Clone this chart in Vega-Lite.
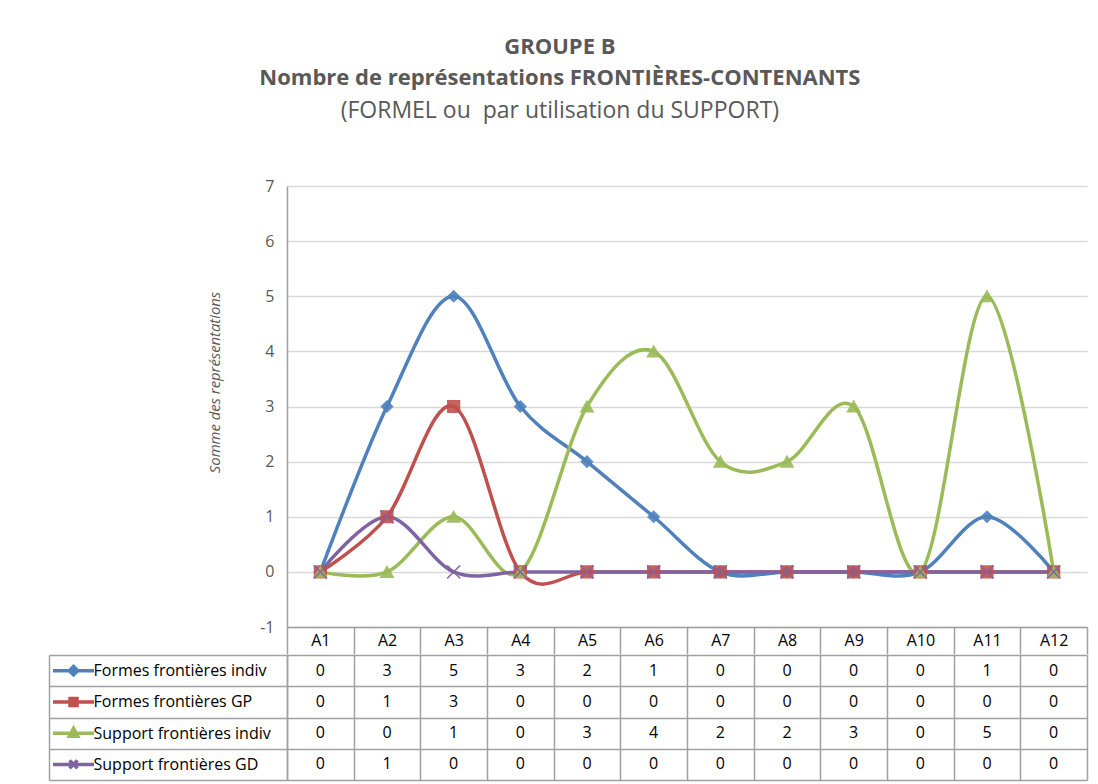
{
  "$schema": "https://vega.github.io/schema/vega-lite/v6.json",
  "padding": {"left": 46, "top": 36, "right": 12, "bottom": 4},
  "background": "white",
  "config": {"view": {"stroke": null}, "font": "Open Sans"},
  "title": {
    "text": ["GROUPE B", "Nombre de représentations FRONTIÈRES-CONTENANTS"],
    "subtitle": "(FORMEL ou\u00a0 par utilisation du SUPPORT)",
    "font": "Open Sans", "fontSize": 22, "fontWeight": "bold", "color": "#595959", "lineHeight": 31,
    "subtitleFont": "Open Sans", "subtitleFontSize": 23, "subtitleColor": "#595959", "subtitlePadding": 10,
    "anchor": "middle", "offset": 54, "dx": -7
  },
  "data": {"values": [
    {"series": "Formes frontières indiv", "cat": "A1", "value": 0},
    {"series": "Formes frontières indiv", "cat": "A2", "value": 3},
    {"series": "Formes frontières indiv", "cat": "A3", "value": 5},
    {"series": "Formes frontières indiv", "cat": "A4", "value": 3},
    {"series": "Formes frontières indiv", "cat": "A5", "value": 2},
    {"series": "Formes frontières indiv", "cat": "A6", "value": 1},
    {"series": "Formes frontières indiv", "cat": "A7", "value": 0},
    {"series": "Formes frontières indiv", "cat": "A8", "value": 0},
    {"series": "Formes frontières indiv", "cat": "A9", "value": 0},
    {"series": "Formes frontières indiv", "cat": "A10", "value": 0},
    {"series": "Formes frontières indiv", "cat": "A11", "value": 1},
    {"series": "Formes frontières indiv", "cat": "A12", "value": 0},
    {"series": "Formes frontières GP", "cat": "A1", "value": 0},
    {"series": "Formes frontières GP", "cat": "A2", "value": 1},
    {"series": "Formes frontières GP", "cat": "A3", "value": 3},
    {"series": "Formes frontières GP", "cat": "A4", "value": 0},
    {"series": "Formes frontières GP", "cat": "A5", "value": 0},
    {"series": "Formes frontières GP", "cat": "A6", "value": 0},
    {"series": "Formes frontières GP", "cat": "A7", "value": 0},
    {"series": "Formes frontières GP", "cat": "A8", "value": 0},
    {"series": "Formes frontières GP", "cat": "A9", "value": 0},
    {"series": "Formes frontières GP", "cat": "A10", "value": 0},
    {"series": "Formes frontières GP", "cat": "A11", "value": 0},
    {"series": "Formes frontières GP", "cat": "A12", "value": 0},
    {"series": "Support frontières indiv", "cat": "A1", "value": 0},
    {"series": "Support frontières indiv", "cat": "A2", "value": 0},
    {"series": "Support frontières indiv", "cat": "A3", "value": 1},
    {"series": "Support frontières indiv", "cat": "A4", "value": 0},
    {"series": "Support frontières indiv", "cat": "A5", "value": 3},
    {"series": "Support frontières indiv", "cat": "A6", "value": 4},
    {"series": "Support frontières indiv", "cat": "A7", "value": 2},
    {"series": "Support frontières indiv", "cat": "A8", "value": 2},
    {"series": "Support frontières indiv", "cat": "A9", "value": 3},
    {"series": "Support frontières indiv", "cat": "A10", "value": 0},
    {"series": "Support frontières indiv", "cat": "A11", "value": 5},
    {"series": "Support frontières indiv", "cat": "A12", "value": 0},
    {"series": "Support frontières GD", "cat": "A1", "value": 0},
    {"series": "Support frontières GD", "cat": "A2", "value": 1},
    {"series": "Support frontières GD", "cat": "A3", "value": 0},
    {"series": "Support frontières GD", "cat": "A4", "value": 0},
    {"series": "Support frontières GD", "cat": "A5", "value": 0},
    {"series": "Support frontières GD", "cat": "A6", "value": 0},
    {"series": "Support frontières GD", "cat": "A7", "value": 0},
    {"series": "Support frontières GD", "cat": "A8", "value": 0},
    {"series": "Support frontières GD", "cat": "A9", "value": 0},
    {"series": "Support frontières GD", "cat": "A10", "value": 0},
    {"series": "Support frontières GD", "cat": "A11", "value": 0},
    {"series": "Support frontières GD", "cat": "A12", "value": 0}
  ]},
  "spacing": -9,
  "resolve": {"scale": {"x": "independent", "y": "independent", "shape": "independent", "size": "independent"}},
  "vconcat": [
    {
      "spacing": 0,
      "bounds": "flush",
      "hconcat": [
        {"width": 238, "height": 441, "mark": {"type": "point", "opacity": 0}, "encoding": {}},
        {
          "width": 800, "height": 441,
          "encoding": {
            "x": {"field": "cat", "type": "nominal", "sort": null,
              "scale": {"type": "band", "domain": ["A1","A2","A3","A4","A5","A6","A7","A8","A9","A10","A11","A12"], "paddingInner": 0, "paddingOuter": 0},
              "axis": {"title": null, "orient": "bottom", "domain": true, "domainColor": "#a0a0a0", "domainWidth": 1.5,
                "ticks": true, "tickBand": "extent", "tickSize": 27, "tickColor": "#a0a0a0", "tickWidth": 1.5,
                "labelAngle": 0, "labelFontSize": 16, "labelColor": "#000000", "labelBaseline": "middle", "labelPadding": -13.5, "grid": false}},
            "y": {"field": "value", "type": "quantitative",
              "scale": {"domain": [-1, 7], "nice": false, "zero": false},
              "axis": {"title": "Somme des représentations", "titleFontStyle": "italic", "titleFontWeight": "normal", "titleFontSize": 14.8,
                "titleColor": "#595959", "titlePadding": 37, "titleY": 196, "values": [-1,0,1,2,3,4,5,6,7],
                "labelExpr": "replace(datum.label, '−', '-')",
                "domain": true, "domainColor": "#a0a0a0", "domainWidth": 1.5, "ticks": false,
                "grid": true, "gridColor": "#d9d9d9", "gridWidth": 1.5,
                "labelFontSize": 16, "labelColor": "#595959", "labelPadding": 13}},
            "color": {"field": "series", "type": "nominal",
              "scale": {"domain": ["Formes frontières indiv","Formes frontières GP","Support frontières indiv","Support frontières GD"], "range": ["#4F81BD","#C0504D","#9BBB59","#8064A2"]},
              "legend": null}
          },
          "layer": [
            {"mark": {"type": "line", "interpolate": "cardinal", "strokeWidth": 3.5}},
            {"mark": {"type": "point", "filled": true, "opacity": 0.9, "strokeWidth": 1.5},
              "encoding": {
                "shape": {"field": "series", "type": "nominal",
                  "scale": {"domain": ["Formes frontières indiv","Formes frontières GP","Support frontières indiv","Support frontières GD"], "range": ["diamond","square","triangle-up","M-1,-1L1,1M-1,1L1,-1"]},
                  "legend": null},
                "size": {"field": "series", "type": "nominal",
                  "scale": {"domain": ["Formes frontières indiv","Formes frontières GP","Support frontières indiv","Support frontières GD"], "range": [121, 169, 169, 81]},
                  "legend": null},
                "stroke": {"field": "series", "type": "nominal",
                  "scale": {"domain": ["Formes frontières indiv","Formes frontières GP","Support frontières indiv","Support frontières GD"], "range": ["#4F81BD","#C0504D","#9BBB59","#8064A2"]},
                  "legend": null}
              }}
          ]
        }
      ]
    },
    {
      "spacing": 189,
      "bounds": "flush",
      "hconcat": [
        {
          "width": 49, "height": 125,
          "transform": [{"filter": "datum.cat === 'A1'"}],
          "mark": {"type": "point", "filled": true, "size": 400, "strokeWidth": 3.5, "opacity": 1},
          "encoding": {
            "y": {"field": "series", "type": "nominal", "sort": null,
              "scale": {"type": "band", "domain": ["Formes frontières indiv","Formes frontières GP","Support frontières indiv","Support frontières GD"], "paddingInner": 0, "paddingOuter": 0},
              "axis": {"title": null, "labels": false, "ticks": false, "domain": true, "domainColor": "#a0a0a0", "domainWidth": 1.5,
                "grid": true, "tickBand": "extent", "gridColor": "#a0a0a0", "gridWidth": 1.5}},
            "color": {"field": "series", "type": "nominal",
              "scale": {"domain": ["Formes frontières indiv","Formes frontières GP","Support frontières indiv","Support frontières GD"], "range": ["#4F81BD","#C0504D","#9BBB59","#8064A2"]},
              "legend": null},
            "stroke": {"field": "series", "type": "nominal",
              "scale": {"domain": ["Formes frontières indiv","Formes frontières GP","Support frontières indiv","Support frontières GD"], "range": ["#4F81BD","#C0504D","#9BBB59","#8064A2"]},
              "legend": null},
            "shape": {"field": "series", "type": "nominal",
              "scale": {"domain": ["Formes frontières indiv","Formes frontières GP","Support frontières indiv","Support frontières GD"],
                "range": ["M-2.05,0H2.05M0,-0.42L0.42,0L0,0.42L-0.42,0Z", "M-2.05,0H2.05M-0.35,-0.35H0.35V0.35H-0.35Z", "M-2.05,0H2.05M0,-0.48L0.42,0.3H-0.42Z", "M-2.05,0H2.05M-0.4,-0.4L0.4,0.4M-0.4,0.4L0.4,-0.4"]},
              "legend": null}
          }
        },
        {
          "width": 800, "height": 125,
          "mark": {"type": "text", "fontSize": 16, "color": "#000000"},
          "encoding": {
            "x": {"field": "cat", "type": "nominal", "sort": null,
              "scale": {"type": "band", "domain": ["A1","A2","A3","A4","A5","A6","A7","A8","A9","A10","A11","A12"], "paddingInner": 0, "paddingOuter": 0},
              "axis": {"title": null, "orient": "top", "labels": false, "ticks": false, "domain": false,
                "grid": true, "tickBand": "extent", "gridColor": "#a0a0a0", "gridWidth": 1.5}},
            "y": {"field": "series", "type": "nominal", "sort": null,
              "scale": {"type": "band", "domain": ["Formes frontières indiv","Formes frontières GP","Support frontières indiv","Support frontières GD"], "paddingInner": 0, "paddingOuter": 0},
              "axis": {"title": null, "orient": "left", "domain": true, "domainColor": "#a0a0a0", "domainWidth": 1.5,
                "ticks": true, "tickBand": "extent", "tickSize": 189, "tickColor": "#a0a0a0", "tickWidth": 1.5,
                "grid": true, "gridColor": "#a0a0a0", "gridWidth": 1.5,
                "labelAlign": "left", "labelPadding": 5, "labelFontSize": 16, "labelColor": "#000000", "labelBaseline": "middle", "labelLimit": 0}},
            "text": {"field": "value", "type": "quantitative"}
          }
        }
      ]
    }
  ]
}
